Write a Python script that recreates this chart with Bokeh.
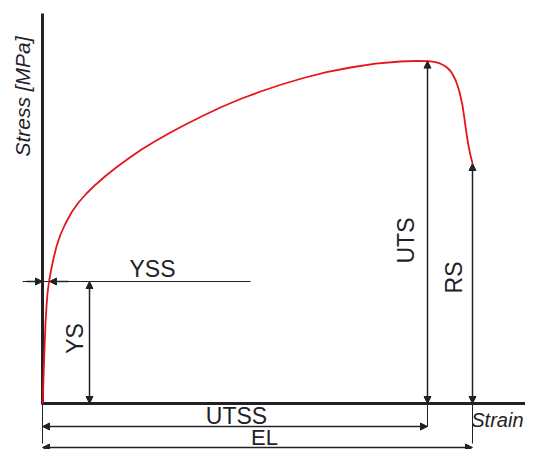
import math
from bokeh.plotting import figure
from bokeh.models import Range1d, Arrow, NormalHead
from bokeh.core.properties import value
from bokeh.embed import file_html
from bokeh.resources import INLINE

# ---- Data (schematic stress-strain curve): strain [%], stress [MPa] ----
strain = [0.03, 0.10, 0.20, 0.30, 0.40, 0.50, 0.65, 0.85, 1.10, 1.40,
          1.80, 2.30, 2.90, 3.60, 4.40, 5.30, 6.30, 7.40, 8.60, 9.90,
          11.30, 12.80, 14.40, 16.10, 17.90, 19.80, 21.80, 23.90, 26.10, 28.40,
          30.80, 33.30, 35.80, 37.50, 38.50, 38.80, 39.30, 39.80, 40.20, 40.50,
          40.80, 41.05, 41.30, 41.50, 41.70, 41.85, 42.00, 42.15, 42.30, 42.45,
          42.60, 42.80, 43.00]
stress = [0, 25, 55, 80, 97, 110, 122, 133, 145, 157,
          169, 180, 191, 201, 210, 218.8, 227.5, 236.3, 245, 254,
          262.5, 271, 279.5, 288, 296.5, 304.5, 312, 319, 325.5, 331.3,
          336, 339.8, 342, 342.6, 342.4, 342.1, 341.3, 339.8, 337.8, 335.5,
          332.5, 328.5, 323.5, 318, 311.5, 305, 298, 288, 277, 267,
          257.5, 248, 240]

YS = 122      # yield strength
YSS = 0.7     # yield strain
UTS = 342.4   # ultimate tensile strength
UTSS = 38.5   # strain at UTS
RS = 240      # rupture strength
EL = 43.0     # elongation

DARK = "#222226"
RED = "#e8141c"
FONT = value("Liberation Sans")

p = figure(width=525, height=449, x_range=Range1d(-4.2, 48.3), y_range=Range1d(-46, 403),
           output_backend="svg", toolbar_location=None, min_border=0,
           x_axis_type=None, y_axis_type=None, title=None)
p.grid.visible = False
p.outline_line_color = None
p.background_fill_color = "white"
p.border_fill_color = "white"

# thin extension / reference lines
p.segment(x0=[0, UTSS, EL, -2.0], y0=[0, 0, 0, YS], x1=[0, UTSS, EL, 20.8], y1=[-40, -23, -40, YS],
          line_color=DARK, line_width=1)

# axes lines
p.segment(x0=[0, 0], y0=[-1, 0], x1=[0, 48.3], y1=[390, 0], line_color=DARK, line_width=3)


def head():
    return NormalHead(size=7, fill_color=DARK, line_color=DARK, line_width=1)


def arrow(x0, y0, x1, y1, start=True, end=True):
    p.add_layout(Arrow(x_start=x0, y_start=y0, x_end=x1, y_end=y1,
                       start=head() if start else None, end=head() if end else None,
                       line_color=DARK, line_width=1.5))


arrow(4.7, 0, 4.7, YS)          # YS
arrow(UTSS, 0, UTSS, UTS)       # UTS
arrow(EL, 0, EL, RS)            # RS
arrow(0, -23, UTSS, -23)        # UTSS
arrow(0, -44, EL, -44)          # EL
arrow(-1.6, YS, 0, YS, start=False)     # YSS left
arrow(2.6, YS, YSS, YS, start=False)    # YSS right

# curve
p.line(strain, stress, line_color=RED, line_width=1.8, line_join="round")

# horizontal labels (anchor = cap centre)
p.text(x=[11.0, 19.4], y=[YS + 12.5, -12.5], text=["YSS", "UTSS"],
       text_font=FONT, text_font_size="23px", text_align="center",
       text_baseline="alphabetic", text_color=DARK)
p.text(x=[22.2], y=[-33.5], text=["EL"],
       text_font=FONT, text_font_size="22px", text_align="center",
       text_baseline="alphabetic", text_color=DARK)
p.text(x=[48.1], y=[-16], text=["Strain"], text_font=FONT, text_font_size="20px",
       text_font_style="italic", text_align="right", text_baseline="alphabetic", text_color=DARK)

# vertical labels
p.text(x=[3.2, 36.3, 41.1], y=[65, 163, 126], text=["YS", "UTS", "RS"], angle=math.pi / 2,
       text_font=FONT, text_font_size="23px", text_align="center",
       text_baseline="alphabetic", text_color=DARK)
p.text(x=[-2.0], y=[307], text=["Stress [MPa]"], angle=math.pi / 2,
       text_font=FONT, text_font_size="21px", text_font_style="italic", text_align="center",
       text_baseline="alphabetic", text_color=DARK)

open("out.html", "w").write(file_html(p, INLINE))
